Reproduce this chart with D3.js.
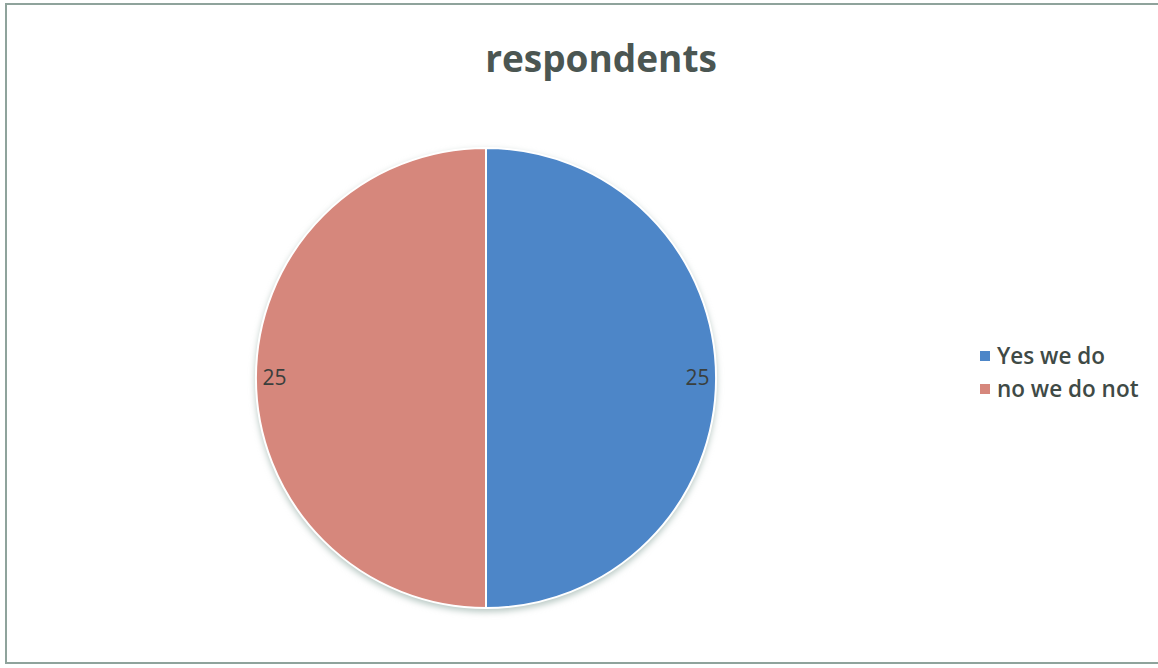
<!DOCTYPE html>
<html>
<head>
<meta charset="utf-8">
<script src="https://cdn.jsdelivr.net/npm/d3@7"></script>
<style>
  body { margin: 0; background: #fff; }
  svg { display: block; }
</style>
</head>
<body>
<div id="container"></div>
<script>
// chart data
const categories = ["Yes we do", "no we do not"];
const values = [25, 25];
const colors = ["#4d86c8", "#d6877c"];
const title = "respondents";

const width = 1158;
const height = 668;
const cx = 486;
const cy = 378;
const radius = 230;

const svg = d3.select("#container").append("svg")
  .attr("width", width)
  .attr("height", height);

// chart frame
svg.append("rect")
  .attr("x", 6).attr("y", 4)
  .attr("width", 1160).attr("height", 659)
  .attr("fill", "#fff")
  .attr("stroke", "#8fa39c")
  .attr("stroke-width", 2);

// title
svg.append("text")
  .attr("x", 601).attr("y", 72)
  .attr("text-anchor", "middle")
  .attr("font-family", "Open Sans, sans-serif")
  .attr("font-weight", "bold")
  .attr("font-size", 37)
  .attr("fill", "#4b5652")
  .text(title);

const defs = svg.append("defs");
const shadow = defs.append("filter").attr("id", "shadow")
  .attr("x", "-10%").attr("y", "-10%").attr("width", "120%").attr("height", "120%");
shadow.append("feGaussianBlur").attr("stdDeviation", 3);

// soft shadow under the pie
svg.append("circle")
  .attr("cx", cx).attr("cy", cy + 3)
  .attr("r", radius + 1)
  .attr("fill", "#b9c9c4")
  .attr("filter", "url(#shadow)");

const pie = d3.pie().sort(null).value(d => d)(values);
const arc = d3.arc().innerRadius(0).outerRadius(radius);

const g = svg.append("g").attr("transform", `translate(${cx},${cy})`);

g.selectAll("path")
  .data(pie)
  .join("path")
  .attr("d", arc)
  .attr("fill", (d, i) => colors[i])
  .attr("stroke", "#fff")
  .attr("stroke-width", 2);

// data labels near the outer edge
const labelArc = d3.arc().innerRadius(radius * 0.92).outerRadius(radius * 0.92);
g.selectAll("text.lbl")
  .data(pie)
  .join("text")
  .attr("class", "lbl")
  .attr("transform", d => {
    const [x, y] = labelArc.centroid(d);
    return `translate(${x},${y})`;
  })
  .attr("text-anchor", "middle")
  .attr("dy", "0.35em")
  .attr("font-family", "Open Sans, sans-serif")
  .attr("font-size", 21)
  .attr("fill", "#3a3f3d")
  .text((d, i) => values[i]);

// legend
const legend = svg.append("g").attr("transform", "translate(980,356)");
const items = legend.selectAll("g")
  .data(categories)
  .join("g")
  .attr("transform", (d, i) => `translate(0,${i * 33})`);

items.append("rect")
  .attr("x", 0).attr("y", -5)
  .attr("width", 10).attr("height", 10)
  .attr("fill", (d, i) => colors[i]);

items.append("text")
  .attr("x", 17).attr("dy", "0.35em")
  .attr("font-family", "Open Sans, sans-serif")
  .attr("font-weight", 600)
  .attr("font-size", 22.5)
  .attr("fill", "#3f4a46")
  .text(d => d);
</script>
</body>
</html>
